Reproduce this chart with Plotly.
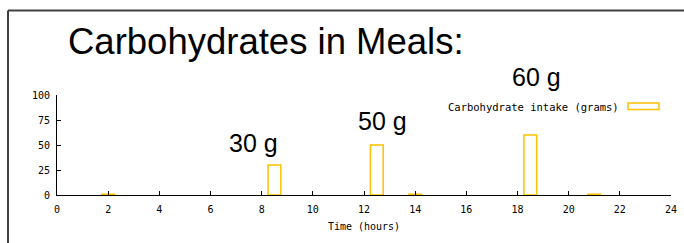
import plotly.graph_objects as go

# Data
meal_times = [2, 8.5, 12.5, 14, 18.5, 21]
carbs_grams = [0.8, 30, 50, 0.8, 60, 0.8]
annot_text = ["30 g", "50 g", "60 g"]
annot_x = [7.7, 12.72, 18.76]
annot_y = [52, 74, 118]
x_ticks = list(range(0, 25, 2))
y_ticks = [0, 25, 50, 75, 100]
series_name = "Carbohydrate intake (grams)"
title_text = "Carbohydrates in Meals:"

W, H = 684, 243
L, R, T, B = 57, 13, 95, 48
pw = W - L - R
ph = H - T - B
X0, X1 = 0, 24
Y0, Y1 = 0, 100

def px_x(p):
    return (p - L) / pw

def px_y(p):
    return (H - B - p) / ph

ORANGE = "#FFC000"
mono = "DejaVu Sans Mono"

fig = go.Figure()
fig.add_trace(go.Bar(
    x=meal_times, y=carbs_grams, width=0.5,
    marker=dict(color="rgba(255,255,255,0)", line=dict(color=ORANGE, width=1.5)),
    name=series_name, showlegend=False, hoverinfo="skip",
))

annotations = []
for t, ax, ay in zip(annot_text, annot_x, annot_y):
    annotations.append(dict(x=(ax - X0) / (X1 - X0), y=(ay - Y0) / (Y1 - Y0),
                            xref="paper", yref="paper", text=t, showarrow=False,
                            font=dict(family="Liberation Sans", size=25, color="black"),
                            xanchor="center", yanchor="middle"))
annotations.append(dict(x=px_x(621), y=px_y(106.5), xref="paper", yref="paper",
                        text=series_name, showarrow=False, xanchor="right", yanchor="middle",
                        font=dict(family=mono, size=10.5, color="black")))
annotations.append(dict(x=px_x(66), y=px_y(41), xref="paper", yref="paper",
                        text=title_text, showarrow=False, xanchor="left", yanchor="middle",
                        font=dict(family="Liberation Sans", size=36.5, color="black")))

shapes = [
    dict(type="rect", xref="paper", yref="paper",
         x0=px_x(628), x1=px_x(659), y0=px_y(109.5), y1=px_y(103),
         line=dict(color=ORANGE, width=1.5), fillcolor="rgba(255,255,255,0)"),
    dict(type="line", xref="paper", yref="paper",
         x0=px_x(8), x1=px_x(8), y0=px_y(10.5), y1=px_y(260),
         line=dict(color="#404040", width=2)),
    dict(type="line", xref="paper", yref="paper",
         x0=px_x(8), x1=px_x(700), y0=px_y(10.5), y1=px_y(10.5),
         line=dict(color="#404040", width=2)),
]

fig.update_layout(
    width=W, height=H,
    margin=dict(l=L, r=R, t=T, b=B, pad=0),
    paper_bgcolor="white", plot_bgcolor="white",
    showlegend=False,
    annotations=annotations,
    shapes=shapes,
    xaxis=dict(range=[X0, X1], tickvals=x_ticks, ticks="inside", ticklen=4,
               tickcolor="black", showline=True, linecolor="black", linewidth=1,
               showgrid=False, zeroline=False, automargin=False,
               tickfont=dict(family=mono, size=10, color="black"),
               ticklabelstandoff=5,
               title=dict(text="Time (hours)", font=dict(family=mono, size=10, color="black"),
                          standoff=8)),
    yaxis=dict(range=[Y0, Y1], tickvals=y_ticks, ticks="inside", ticklen=4,
               tickcolor="black", showline=True, linecolor="black", linewidth=1,
               showgrid=False, zeroline=False, automargin=False,
               tickfont=dict(family=mono, size=10, color="black"),
               ticklabelstandoff=4),
)

fig.write_html("out.html", config={"displayModeBar": False},
               post_script="document.body.style.margin='0';")
